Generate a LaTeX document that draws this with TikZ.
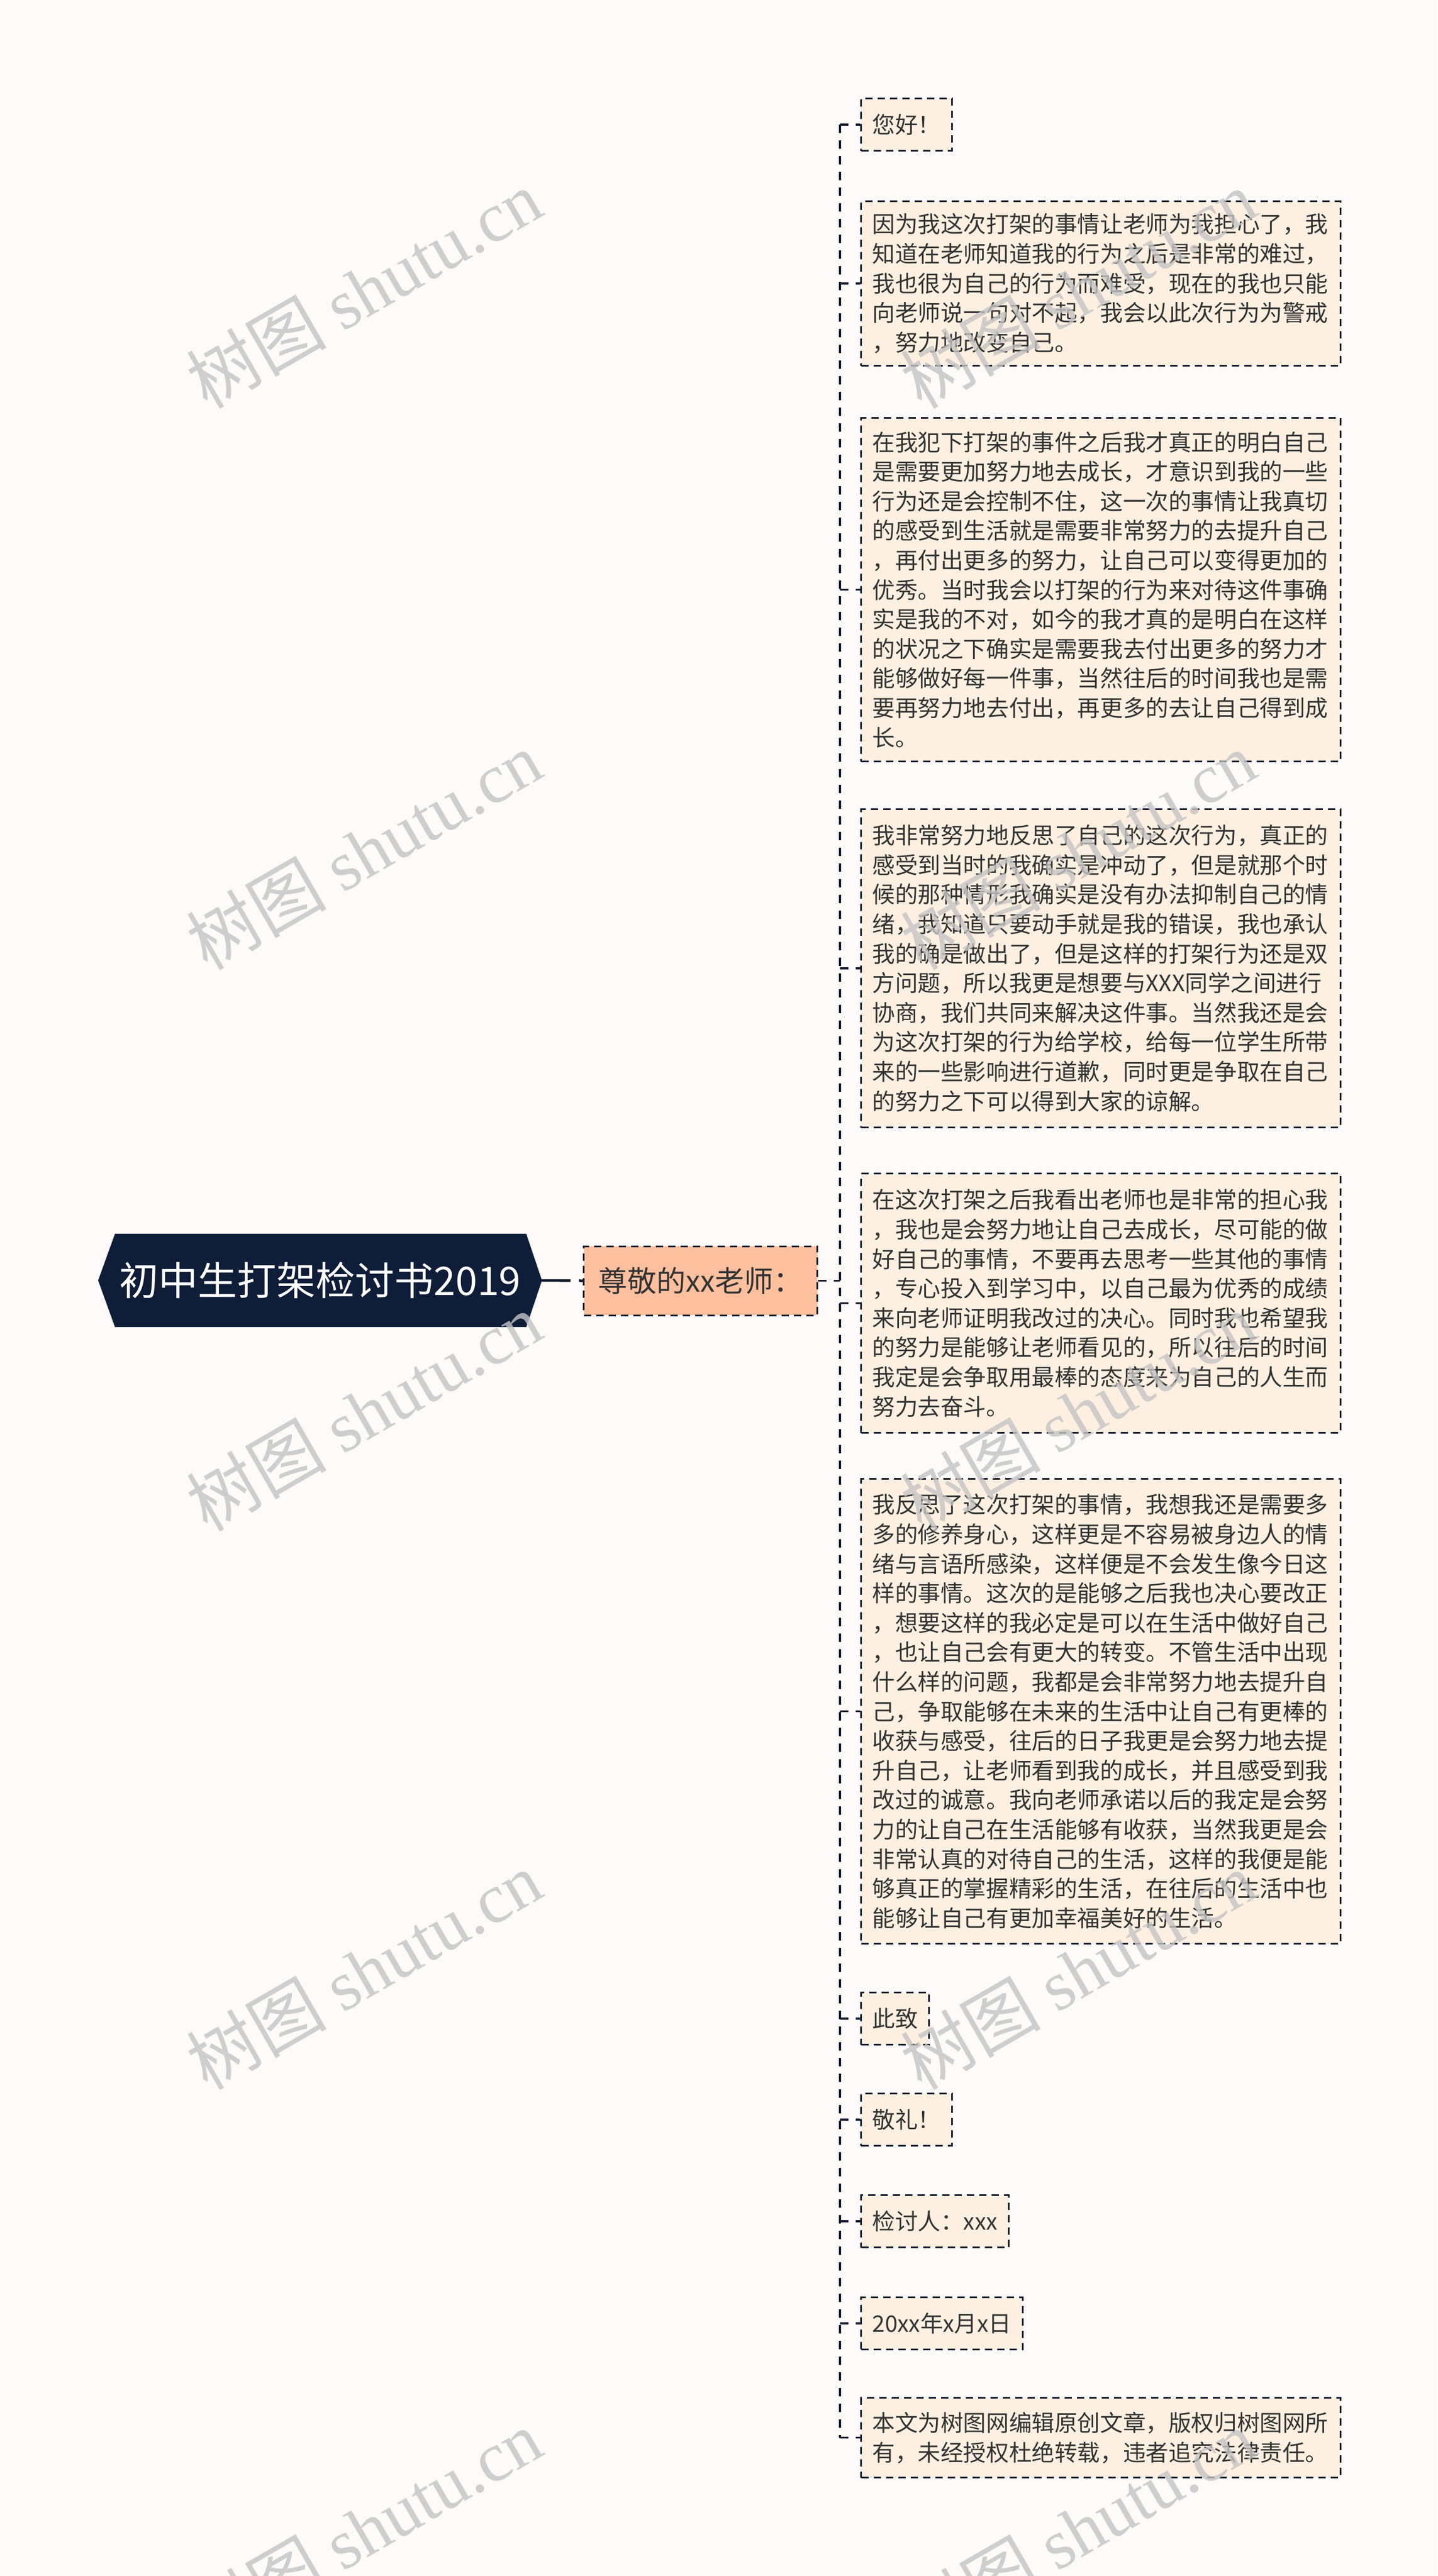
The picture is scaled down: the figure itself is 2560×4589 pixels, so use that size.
\documentclass[tikz,border=0pt]{standalone}
\usepackage{fontspec}
\setmainfont{Noto Sans CJK SC}
\newfontfamily\wmserif{Liberation Serif}
\usetikzlibrary{backgrounds}
\definecolor{bgc}{HTML}{FDFAF9}
\definecolor{rootc}{HTML}{0E1D38}
\definecolor{midc}{HTML}{FDC09E}
\definecolor{leafc}{HTML}{FDF0E0}
\definecolor{linec}{HTML}{141C2E}
\definecolor{txtc}{HTML}{333333}
\definecolor{wmc}{HTML}{C4C4C4}
\newcommand\lffont{\fontsize{40.6pt}{52.6pt}\selectfont}
\newcommand\midfont{\fontsize{52pt}{60pt}\selectfont}
\newcommand\rtfont{\fontsize{70pt}{84pt}\selectfont}
\newcommand\wmfont{\fontsize{125pt}{130pt}\selectfont}
\begin{document}
\begin{tikzpicture}[x=1pt,y=-1pt,
  leaf/.style={draw=linec, line width=3pt, dash pattern=on 13pt off 9pt, fill=leafc,
    text=txtc, anchor=north west, inner xsep=20pt, inner ysep=0pt,
    minimum height=93pt, font=\lffont, align=left},
  wide/.style={text width=813.5pt, minimum width=853pt},
  midbox/.style={draw=linec, line width=3pt, dash pattern=on 13pt off 9pt, fill=midc,
    text=txtc, anchor=west, inner xsep=24pt, inner ysep=0pt,
    minimum height=123pt, minimum width=416pt, font=\midfont},
  rootbox/.style={inner sep=0pt, minimum width=790pt, minimum height=166pt,
    text=white, font=\rtfont},
  rootconn/.style={draw=linec, line width=4.5pt, dash pattern=on 51pt off 15pt},
  conn/.style={draw=linec, line width=3.3pt, dash pattern=on 15pt off 13pt},
  wm/.style={rotate=30, text=wmc, text opacity=0.8, font=\wmfont, inner sep=0pt}
]
\useasboundingbox (0,0) rectangle (2560,4589);
\clip (0,0) rectangle (2560,4589);

% root and main branch
\node[rootbox] (root) at (570,2281) {初中生打架检讨书2019};
\node[midbox] (mid) at (1038,2281.5) {尊敬的xx老师：};

% leaves
\node[leaf] (l1) at (1532,174) {您好！};
\node[leaf,wide,minimum height=293pt] (l2) at (1532,357) {因为我这次打架的事情让老师为我担心了，我\\知道在老师知道我的行为之后是非常的难过，\\我也很为自己的行为而难受，现在的我也只能\\向老师说一句对不起，我会以此次行为为警戒\\，努力地改变自己。};
\node[leaf,wide,minimum height=612pt] (l3) at (1532,743) {在我犯下打架的事件之后我才真正的明白自己\\是需要更加努力地去成长，才意识到我的一些\\行为还是会控制不住，这一次的事情让我真切\\的感受到生活就是需要非常努力的去提升自己\\，再付出更多的努力，让自己可以变得更加的\\优秀。当时我会以打架的行为来对待这件事确\\实是我的不对，如今的我才真的是明白在这样\\的状况之下确实是需要我去付出更多的努力才\\能够做好每一件事，当然往后的时间我也是需\\要再努力地去付出，再更多的去让自己得到成\\长。};
\node[leaf,wide,minimum height=567pt] (l4) at (1532,1440) {我非常努力地反思了自己的这次行为，真正的\\感受到当时的我确实是冲动了，但是就那个时\\候的那种情形我确实是没有办法抑制自己的情\\绪，我知道只要动手就是我的错误，我也承认\\我的确是做出了，但是这样的打架行为还是双\\方问题，所以我更是想要与XXX同学之间进行\\协商，我们共同来解决这件事。当然我还是会\\为这次打架的行为给学校，给每一位学生所带\\来的一些影响进行道歉，同时更是争取在自己\\的努力之下可以得到大家的谅解。};
\node[leaf,wide,minimum height=462pt] (l5) at (1532,2089) {在这次打架之后我看出老师也是非常的担心我\\，我也是会努力地让自己去成长，尽可能的做\\好自己的事情，不要再去思考一些其他的事情\\，专心投入到学习中，以自己最为优秀的成绩\\来向老师证明我改过的决心。同时我也希望我\\的努力是能够让老师看见的，所以往后的时间\\我定是会争取用最棒的态度来为自己的人生而\\努力去奋斗。};
\node[leaf,wide,minimum height=828pt] (l6) at (1532,2633) {我反思了这次打架的事情，我想我还是需要多\\多的修养身心，这样更是不容易被身边人的情\\绪与言语所感染，这样便是不会发生像今日这\\样的事情。这次的是能够之后我也决心要改正\\，想要这样的我必定是可以在生活中做好自己\\，也让自己会有更大的转变。不管生活中出现\\什么样的问题，我都是会非常努力地去提升自\\己，争取能够在未来的生活中让自己有更棒的\\收获与感受，往后的日子我更是会努力地去提\\升自己，让老师看到我的成长，并且感受到我\\改过的诚意。我向老师承诺以后的我定是会努\\力的让自己在生活能够有收获，当然我更是会\\非常认真的对待自己的生活，这样的我便是能\\够真正的掌握精彩的生活，在往后的生活中也\\能够让自己有更加幸福美好的生活。};
\node[leaf] (l7) at (1532,3548) {此致};
\node[leaf] (l8) at (1532,3728) {敬礼！};
\node[leaf] (l9) at (1532,3909) {检讨人：xxx};
\node[leaf] (l10) at (1532,4091) {20xx年x月x日};
\node[leaf,wide,minimum height=142pt] (l11) at (1532,4270) {本文为树图网编辑原创文章，版权归树图网所\\有，未经授权杜绝转载，违者追究法律责任。};

% background and root shape
\begin{scope}[on background layer]
  \fill[bgc] (0,0) rectangle (2560,4589);
  \fill[rootc] (root.west) -- ([xshift=30pt]root.north west) -- ([xshift=-28pt]root.north east)
    -- (root.east) -- ([xshift=-28pt]root.south east) -- ([xshift=30pt]root.south west) -- cycle;
\end{scope}

% connectors
\coordinate (tk) at (1496,0);
\draw[rootconn] (root.east) -- (mid.west);
\draw[conn] (mid.east) -- (mid.east -| tk);
\draw[conn] (tk |- l1.west) -- (tk |- l11.west);
\foreach \i in {1,...,11} {\draw[conn] (tk |- l\i.west) -- (l\i.west);}

% watermarks
\foreach \yy in {515,1515,2515,3510,4505} {
  \node[wm] (wl\yy) at (648,\yy) {树图 {\wmserif shutu.cn}};
  \node[wm] (wr\yy) at (1920,\yy) {树图 {\wmserif shutu.cn}};
}
\end{tikzpicture}
\end{document}
